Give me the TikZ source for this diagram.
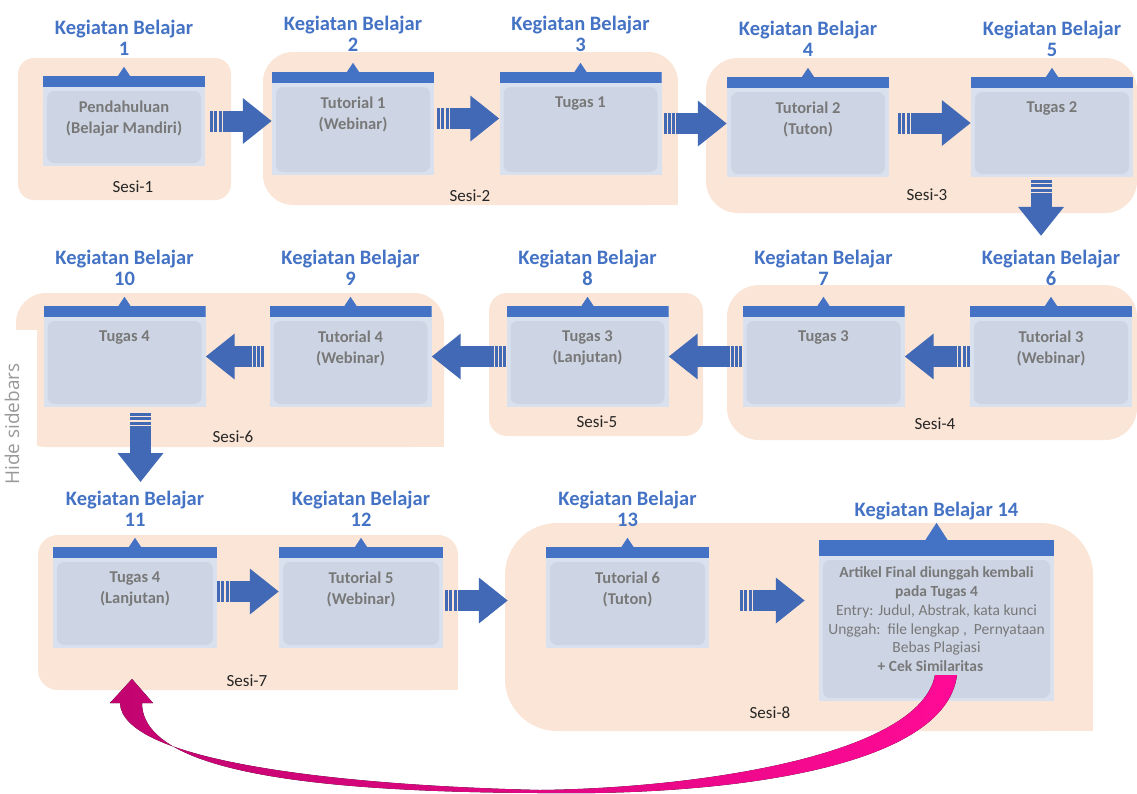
\documentclass[tikz,border=0pt]{standalone}
\usepackage{fontspec}
\setmainfont{Carlito}
\newfontfamily\sidefont{Open Sans}
\usetikzlibrary{arrows.meta}

\definecolor{sesibg}{HTML}{FBE5D6}
\definecolor{kbblue}{HTML}{4472C4}
\definecolor{kbpale}{HTML}{DAE1EE}
\definecolor{kbinner}{HTML}{CDD5E4}
\definecolor{kbgray}{HTML}{787878}
\definecolor{arrblue}{HTML}{4169B5}
\definecolor{pinkA}{HTML}{FF0A96}
\definecolor{pinkB}{HTML}{C2046F}

\begin{document}
\begin{tikzpicture}[x=1pt, y=-1pt,
    kb/.style={minimum width=162pt, minimum height=101pt, inner sep=0pt, fill=kbpale,
      path picture={
        \fill[kbinner, rounded corners=7pt] ([shift={(4pt,-#1-4pt)}]path picture bounding box.north west)
          rectangle ([shift={(-4pt,3pt)}]path picture bounding box.south east);
        \fill[kbblue] (path picture bounding box.north west) rectangle ([yshift=-#1]path picture bounding box.north east);}},
    kb/.default=11pt,
    kbtext/.style={anchor=north, yshift=-25pt, font=\fontsize{16.5}{21}\selectfont\bfseries,
      text=kbgray, align=center, inner sep=0pt},
    head/.style={yshift=20pt, font=\fontsize{20.5}{21}\selectfont\bfseries, text=kbblue, align=center, inner sep=0pt},
    sesi/.style={fill=sesibg, rounded corners=#1},
    sesi/.default=18pt,
    sesilbl/.style={font=\fontsize{17}{20}\selectfont, text=black!85, inner sep=0pt},
    blockarr/.style={arrblue, line width=21pt, -{Triangle[length=29pt, width=44pt]},
      dash pattern=on 3pt off 1.2pt on 3pt off 1.2pt on 3pt off 1.2pt on 900pt off 1pt}]
  \useasboundingbox (0,0) rectangle (1137,793);

  % sessions
  \fill[sesi=16pt] (18,58) rectangle (231,200);
  \fill[sesi=30pt] (263,52) rectangle (678,205);
  \fill[sesibg] (600,150) rectangle (678,205);
  \fill[sesi=32pt] (706,58) rectangle (1137,213);
  \fill[sesi=30pt] (16,293) rectangle (444,447);
  \fill[sesibg] (380,400) rectangle (444,447);
  \fill[sesi=18pt] (489,293) rectangle (703,436);
  \fill[sesi=32pt] (727,285) rectangle (1137,440);
  \fill[sesi=20pt] (38,535) rectangle (458,690);
  \fill[sesibg] (400,640) rectangle (458,690);
  \fill[sesi=52pt] (505,523) rectangle (1093,731);
  \fill[sesibg] (1000,650) rectangle (1093,731);
  \fill[white] (0,330) rectangle (37,500);

  \node[sesilbl] (s1) at (133,187) {Sesi-1};
  \node[sesilbl] (s2) at (470,196) {Sesi-2};
  \node[sesilbl] (s3) at (927,195) {Sesi-3};
  \node[sesilbl] (s4) at (935,424) {Sesi-4};
  \node[sesilbl] (s5) at (597,422) {Sesi-5};
  \node[sesilbl] (s6) at (233,437) {Sesi-6};
  \node[sesilbl] (s7) at (247,681) {Sesi-7};
  \node[sesilbl] (s8) at (770,713) {Sesi-8};

  % kegiatan belajar
  \node[kb, minimum height=90pt, label={[head, name=h1]above:Kegiatan Belajar\\1},
    label={[kbtext]north:Pendahuluan\\(Belajar Mandiri)}] (kb1) at (124,121) {};
  \node[kb, minimum height=103pt, label={[head, name=h2]above:Kegiatan Belajar\\2},
    label={[kbtext]north:Tutorial 1\\(Webinar)}] (kb2) at (353,123.5) {};
  \node[kb, minimum height=103pt, label={[head, name=h3]above:Kegiatan Belajar\\3},
    label={[kbtext]north:Tugas 1}] (kb3) at (580.5,123.5) {};
  \node[kb, minimum height=100pt, label={[head, name=h4]above:Kegiatan Belajar\\4},
    label={[kbtext]north:Tutorial 2\\(Tuton)}] (kb4) at (808,127) {};
  \node[kb, minimum height=100pt, label={[head, name=h5]above:Kegiatan Belajar\\5},
    label={[kbtext]north:Tugas 2}] (kb5) at (1052,127) {};
  \node[kb, label={[head, name=h6]above:Kegiatan Belajar\\6},
    label={[kbtext]north:Tutorial 3\\(Webinar)}] (kb6) at (1051,356.5) {};
  \node[kb, label={[head, name=h7]above:Kegiatan Belajar\\7},
    label={[kbtext]north:Tugas 3}] (kb7) at (823.5,356.5) {};
  \node[kb, label={[head, name=h8]above:Kegiatan Belajar\\8},
    label={[kbtext]north:Tugas 3\\(Lanjutan)}] (kb8) at (587.5,356.5) {};
  \node[kb, label={[head, name=h9]above:Kegiatan Belajar\\9},
    label={[kbtext]north:Tutorial 4\\(Webinar)}] (kb9) at (350.5,356.5) {};
  \node[kb, label={[head, name=h10]above:Kegiatan Belajar\\10},
    label={[kbtext]north:Tugas 4}] (kb10) at (124.5,356.5) {};
  \node[kb, minimum width=164pt, label={[head, name=h11]above:Kegiatan Belajar\\11},
    label={[kbtext]north:Tugas 4\\(Lanjutan)}] (kb11) at (135,597.5) {};
  \node[kb, minimum width=164pt, label={[head, name=h12]above:Kegiatan Belajar\\12},
    label={[kbtext]north:Tutorial 5\\(Webinar)}] (kb12) at (361,597.5) {};
  \node[kb, minimum width=163pt, label={[head, name=h13]above:Kegiatan Belajar\\13},
    label={[kbtext]north:Tutorial 6\\(Tuton)}] (kb13) at (627.5,597.5) {};
  \node[kb=16pt, minimum width=235pt, minimum height=161pt,
    label={[head, name=h14]above:Kegiatan Belajar 14},
    label={[kbtext, yshift=-2pt, font=\fontsize{15.5}{18.7}\selectfont]north:\textbf{Artikel Final diunggah kembali}\\
      \textbf{pada Tugas 4}\\Entry: Judul, Abstrak, kata kunci\\Unggah:\ \ file lengkap ,\ \ Pernyataan\\
      Bebas Plagiasi\\\textbf{+ Cek Similaritas}\hspace*{12pt}}] (kb14) at (936.5,620.5) {};

  \foreach \n in {1,...,13}
    \fill[kbblue] ([xshift=-6pt]kb\n.north) -- ([yshift=9pt]kb\n.north) -- ([xshift=6pt]kb\n.north) -- cycle;
  \fill[kbblue] ([xshift=-11pt]kb14.north) -- ([yshift=17pt]kb14.north) -- ([xshift=11pt]kb14.north) -- cycle;

  % arrows
  \draw[blockarr, shorten <=5pt] (kb1.east) -- (kb1.east -| kb2.west);
  \draw[blockarr, shorten <=3pt] ([yshift=5pt]kb2.east) -- ([yshift=5pt]kb2.east -| kb3.west);
  \draw[blockarr, shorten <=2pt] (kb3.east) -- (kb3.east -| kb4.west);
  \draw[blockarr, shorten <=9pt] ([yshift=4pt]kb4.east) -- ([yshift=4pt]kb4.east -| kb5.west);
  \draw[blockarr, shorten <=3pt, shorten >=14pt] ([xshift=-11pt]kb5.south) -- ([xshift=-11pt]kb5.south |- h6.north);
  \draw[blockarr] (kb6.west) -- (kb6.west -| kb7.east);
  \draw[blockarr] (kb7.west) -- (kb7.west -| kb8.east);
  \draw[blockarr] (kb8.west) -- (kb8.west -| kb9.east);
  \draw[blockarr, shorten <=5pt] (kb9.west) -- (kb9.west -| kb10.east);
  \draw[blockarr, shorten <=6pt, shorten >=9pt] ([xshift=16pt]kb10.south) -- ([xshift=16pt]kb10.south |- h11.north);
  \draw[blockarr] ([yshift=6pt]kb11.east) -- ([yshift=6pt]kb11.east -| kb12.west);
  \draw[blockarr, shorten <=2pt, shorten >=38pt] ([yshift=-3pt]kb12.east) -- ([yshift=-3pt]kb12.east -| kb13.west);
  \draw[blockarr, shorten <=31pt, shorten >=14pt] ([yshift=-3pt]kb13.east) -- ([yshift=-3pt]kb13.east -| kb14.west);

  % back to sesi 7
  \fill[left color=pinkB, right color=pinkA] (957,675) .. controls (945,770) and (720,796) .. (540,793)
    .. controls (330,792) and (142,775) .. (142,703) -- (153,703) -- (132,679) -- (110,703) -- (120,703)
    .. controls (122,760) and (330,785) .. (540,790) .. controls (700,788) and (920,755) .. (935,675) -- cycle;

  \node[rotate=90, font=\sidefont\fontsize{19}{19}\selectfont, text=black!40, inner sep=0pt] (hide) at (12,424) {Hide sidebars};
\end{tikzpicture}
\end{document}
